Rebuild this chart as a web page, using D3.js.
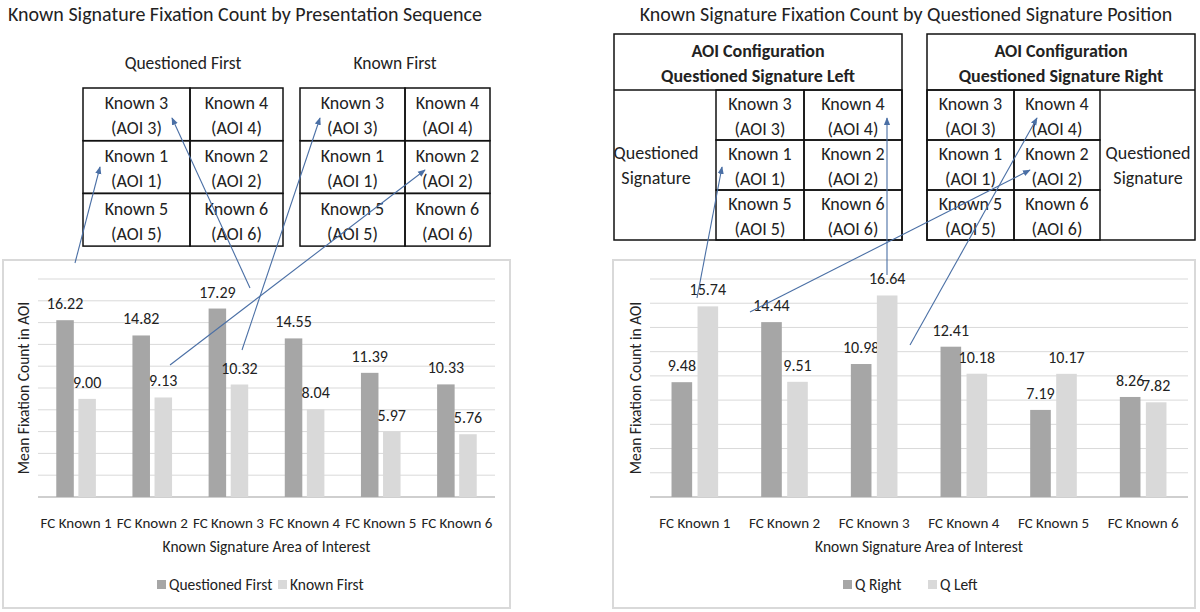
<!DOCTYPE html>
<html><head><meta charset="utf-8">
<script src="https://cdn.jsdelivr.net/npm/d3@7"></script>
<style>body{margin:0;background:#fff}text{font-family:Calibri,Carlito,"Liberation Sans",sans-serif;fill:#222}</style>
</head><body>
<script>
// data
const categories = ["FC Known 1","FC Known 2","FC Known 3","FC Known 4","FC Known 5","FC Known 6"];
const questionedFirst = [16.22,14.82,17.29,14.55,11.39,10.33];
const knownFirst = [9.00,9.13,10.32,8.04,5.97,5.76];
const qRight = [9.48,14.44,10.98,12.41,7.19,8.26];
const qLeft = [15.74,9.51,16.64,10.18,10.17,7.82];
const dark = "#a6a6a6", light = "#d9d9d9", arrowCol = "#4a6fa5";

const svg = d3.select("body").append("svg").attr("width",1200).attr("height",612);
const defs = svg.append("defs");
defs.append("marker").attr("id","ah").attr("viewBox","0 0 10 10").attr("refX",9).attr("refY",5)
  .attr("markerWidth",7).attr("markerHeight",7).attr("orient","auto")
  .append("path").attr("d","M0,1L10,5L0,9z").attr("fill",arrowCol);

svg.append("text").attr("x",245).attr("y",21).attr("text-anchor","middle").attr("font-size",20).text("Known Signature Fixation Count by Presentation Sequence");
svg.append("text").attr("x",906).attr("y",21).attr("text-anchor","middle").attr("font-size",20).text("Known Signature Fixation Count by Questioned Signature Position");

//draw a bar chart panel
function chart(o){
  const g = svg.append("g");
  g.append("rect").attr("x",o.box[0]).attr("y",260).attr("width",o.box[1]-o.box[0]).attr("height",348)
    .attr("fill","none").attr("stroke","#d9d9d9").attr("stroke-width",2);
  const x = d3.scaleBand().domain(categories).range([o.x0,o.x1]);
  const y = d3.scaleLinear().domain([0,o.max]).range([497,279]);
  g.selectAll(".grid").data(d3.range(2,o.max+1,2)).enter().append("line")
    .attr("x1",o.x0).attr("x2",o.x1).attr("y1",d=>y(d)).attr("y2",d=>y(d)).attr("stroke","#d9d9d9");
  g.append("line").attr("x1",o.x0).attr("x2",o.x1).attr("y1",y(0)).attr("y2",y(0)).attr("stroke","#bfbfbf").attr("stroke-width",1.5);
  const bw = x.bandwidth()*0.23, gap = x.bandwidth()*0.06;
  [[o.a,dark,-1],[o.b,light,1]].forEach(([vals,col,s])=>{
    vals.forEach((v,i)=>{
      const cx = x(categories[i])+x.bandwidth()/2 + s*(gap/2+bw/2);
      g.append("rect").attr("x",cx-bw/2).attr("y",y(v)).attr("width",bw).attr("height",y(0)-y(v)).attr("fill",col);
      g.append("text").attr("x",cx).attr("y",y(v)-11).attr("text-anchor","middle").attr("font-size",16).text(v.toFixed(2));
    });
  });
  g.selectAll(".cat").data(categories).enter().append("text").attr("x",d=>x(d)+x.bandwidth()/2).attr("y",528)
    .attr("text-anchor","middle").attr("font-size",15).text(d=>d);
  g.append("text").attr("x",(o.x0+o.x1)/2).attr("y",552).attr("text-anchor","middle").attr("font-size",15.5).text("Known Signature Area of Interest");
  g.append("text").attr("transform",`translate(${o.x0-9},388) rotate(-90)`).attr("text-anchor","middle").attr("font-size",15.5).text("Mean Fixation Count in AOI");
  o.legend.forEach((l,i)=>{
    const lx = o.legX[i];
    g.append("rect").attr("x",lx).attr("y",580).attr("width",9).attr("height",9).attr("fill",i?light:dark);
    g.append("text").attr("x",lx+12).attr("y",590).attr("font-size",15.5).text(l);
  });
  return {x,y,bw,gap};
}
const L = chart({box:[3,510],x0:38,x1:495,max:20,a:questionedFirst,b:knownFirst,legend:["Questioned First","Known First"],legX:[157,278]});
const R = chart({box:[613,1195],x0:650,x1:1188,max:18,a:qRight,b:qLeft,legend:["Q Right","Q Left"],legX:[843,928]});

//grid of AOI cells
const cells = [["Known 3","(AOI 3)"],["Known 4","(AOI 4)"],["Known 1","(AOI 1)"],["Known 2","(AOI 2)"],["Known 5","(AOI 5)"],["Known 6","(AOI 6)"]];
function grid(x0,x1,x2,y0,rh){
  const g = svg.append("g");
  cells.forEach((c,i)=>{
    const r = Math.floor(i/2), col = i%2;
    const xa = col?x1:x0, xb = col?x2:x1, yt = y0+r*rh;
    g.append("rect").attr("x",xa).attr("y",yt).attr("width",xb-xa).attr("height",rh).attr("fill","none").attr("stroke","#111").attr("stroke-width",1.5);
    g.append("text").attr("x",(xa+xb)/2).attr("y",yt+rh/2-5).attr("text-anchor","middle").attr("font-size",18).text(c[0]);
    g.append("text").attr("x",(xa+xb)/2).attr("y",yt+rh/2+20).attr("text-anchor","middle").attr("font-size",18).text(c[1]);
  });
}
svg.append("text").attr("x",183).attr("y",69).attr("text-anchor","middle").attr("font-size",17.5).text("Questioned First");
svg.append("text").attr("x",395).attr("y",69).attr("text-anchor","middle").attr("font-size",17.5).text("Known First");
grid(83,190,283,88,52.7);
grid(300,405,490,88,52.7);

function sideBox(x0,x1,title,qx){
  svg.append("rect").attr("x",x0).attr("y",34).attr("width",x1-x0).attr("height",206).attr("fill","none").attr("stroke","#111").attr("stroke-width",1.5);
  svg.append("line").attr("x1",x0).attr("x2",x1).attr("y1",90).attr("y2",90).attr("stroke","#111").attr("stroke-width",1.5);
  svg.append("text").attr("x",(x0+x1)/2).attr("y",57).attr("text-anchor","middle").attr("font-size",18).attr("font-weight","bold").text("AOI Configuration");
  svg.append("text").attr("x",(x0+x1)/2).attr("y",82).attr("text-anchor","middle").attr("font-size",18).attr("font-weight","bold").text(title);
  svg.append("text").attr("x",qx).attr("y",159).attr("text-anchor","middle").attr("font-size",18).text("Questioned");
  svg.append("text").attr("x",qx).attr("y",184).attr("text-anchor","middle").attr("font-size",18).text("Signature");
}
sideBox(614,902,"Questioned Signature Left",656);
grid(716,804,902,90,50);
sideBox(927,1195,"Questioned Signature Right",1148);
grid(927,1014,1100,90,50);

//arrows from bar labels to cells
const arrows = [
  [75,263,100,167],[250,288,172,118],[242,350,320,118],[170,365,425,170],
  [697,298,722,167],[887,275,887,118],[750,312,1030,170],[910,345,1037,118]
];
svg.selectAll(".arr").data(arrows).enter().append("line")
  .attr("x1",d=>d[0]).attr("y1",d=>d[1]).attr("x2",d=>d[2]).attr("y2",d=>d[3])
  .attr("stroke",arrowCol).attr("stroke-width",1.1).attr("marker-end","url(#ah)");
</script>
</body></html>
